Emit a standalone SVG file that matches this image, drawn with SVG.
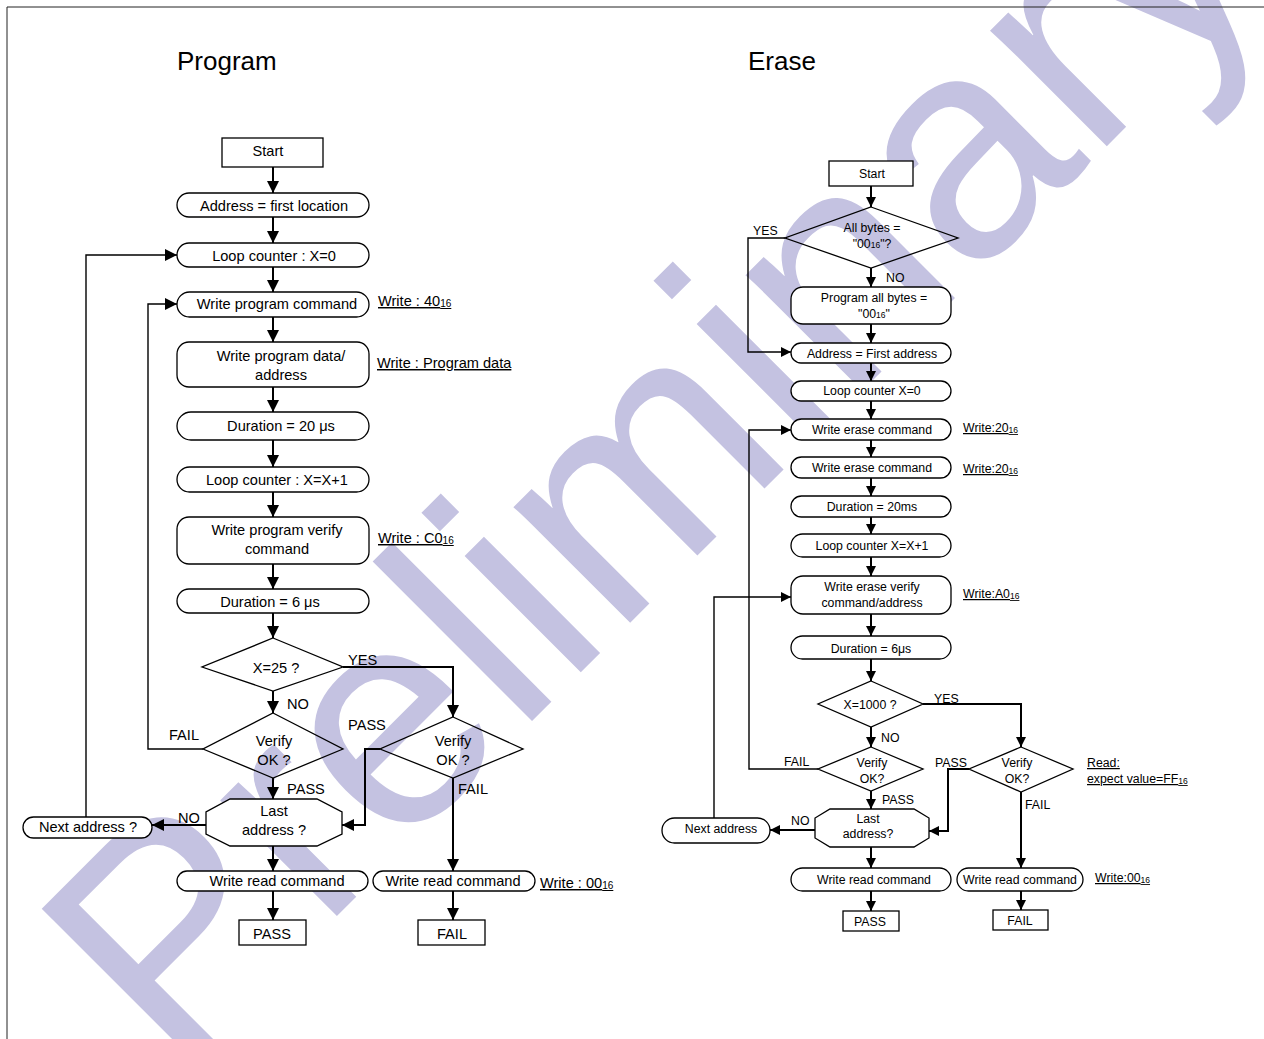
<svg xmlns="http://www.w3.org/2000/svg" width="1264" height="1039" viewBox="0 0 1264 1039">
<defs>
<style>
.t{font-family:"Liberation Sans",Arial,sans-serif;fill:#000}
.p{font-size:14.6px}
.e{font-size:12.3px}
.c{text-anchor:middle}
.s1{font-size:10px}
.s2{font-size:8.5px}
.n{fill:#fff;stroke:#000;stroke-width:1.3}
.d{fill:none;stroke:#000;stroke-width:1.3}
.ln{fill:none;stroke:#000;stroke-width:2}
.lt{fill:none;stroke:#000;stroke-width:1.4}
.u{text-decoration:underline}
.wm{font-family:"Liberation Sans",Arial,sans-serif;font-size:311px;fill:#c4c2e1}
</style>
<marker id="ap" markerUnits="userSpaceOnUse" markerWidth="12" markerHeight="12" refX="12" refY="6" orient="auto"><path d="M0,0 L12,6 L0,12 z" fill="#000"/></marker>
<marker id="ae" markerUnits="userSpaceOnUse" markerWidth="10" markerHeight="10" refX="10" refY="5" orient="auto"><path d="M0,0 L10,5 L0,10 z" fill="#000"/></marker>
</defs>
<rect x="0" y="0" width="1264" height="1039" fill="#fff"/>
<g id="watermark"><text class="wm" transform="translate(175,1078) rotate(-45)">Preliminary</text></g>
<path d="M7,1039 V7 H1264" fill="none" stroke="#222" stroke-width="1"/>
<text class="t" x="177" y="70" font-size="26">Program</text>
<text class="t" x="748" y="70" font-size="26">Erase</text>

<g id="connectors">
<g class="ln" marker-end="url(#ap)">
<path d="M273,167 V193"/>
<path d="M273,217 V243"/>
<path d="M273,267 V292"/>
<path d="M273,317 V342"/>
<path d="M273,387 V412"/>
<path d="M273,440 V467"/>
<path d="M273,492 V517"/>
<path d="M273,564 V589"/>
<path d="M273,613 V638"/>
<path d="M273,691 V713"/>
<path d="M273,778 V799"/>
<path d="M273,846 V871"/>
<path d="M273,891 V920"/>
<path d="M453,891 V920"/>
<path d="M453,778 V871"/>
<path d="M206,825 H152"/>
<path d="M343,667 H453 V717"/>
<path d="M380,749 H365 V825 H342"/>
</g>
<g class="lt" marker-end="url(#ap)">
<path d="M203,749 H148 V304 H177"/>
<path d="M86,817 V255 H177"/>
</g>
<g class="ln" marker-end="url(#ae)">
<path d="M871,186 V207"/>
<path d="M871,268 V287"/>
<path d="M871,324 V343"/>
<path d="M871,363 V381"/>
<path d="M871,401 V419"/>
<path d="M871,440 V457"/>
<path d="M871,478 V496"/>
<path d="M871,517 V534"/>
<path d="M871,557 V576"/>
<path d="M871,614 V636"/>
<path d="M871,659 V681"/>
<path d="M871,727 V747"/>
<path d="M871,791 V809"/>
<path d="M871,847 V868"/>
<path d="M871,891 V911"/>
<path d="M1021,891 V910"/>
<path d="M1021,792 V868"/>
<path d="M923,704 H1021 V747"/>
<path d="M815,830 H770"/>
<path d="M969,769 H948 V831 H929"/>
</g>
<g class="lt" marker-end="url(#ae)">
<path d="M785,238 H748 V352 H791"/>
<path d="M818,769 H749 V430 H791"/>
<path d="M714,818 V597 H791"/>
</g>
</g>

<g id="edge-labels" class="t">
<text class="p" x="348" y="665">YES</text>
<text class="p" x="287" y="709">NO</text>
<text class="p" x="169" y="740">FAIL</text>
<text class="p" x="348" y="730">PASS</text>
<text class="p" x="287" y="794">PASS</text>
<text class="p" x="458" y="794">FAIL</text>
<text class="p" x="178" y="823">NO</text>
<text class="e" x="753" y="235">YES</text>
<text class="e" x="886" y="282">NO</text>
<text class="e" x="934" y="703">YES</text>
<text class="e" x="881" y="742">NO</text>
<text class="e" x="784" y="766">FAIL</text>
<text class="e" x="882" y="804">PASS</text>
<text class="e" x="791" y="825">NO</text>
<text class="e" x="935" y="767">PASS</text>
<text class="e" x="1025" y="809">FAIL</text>
</g>

<g id="notes" class="t">
<text class="p u" x="378" y="306">Write : 40<tspan class="s1" dy="1">16</tspan></text>
<text class="p u" x="377" y="368">Write : Program data</text>
<text class="p u" x="378" y="543">Write : C0<tspan class="s1" dy="1">16</tspan></text>
<text class="p u" x="540" y="888">Write : 00<tspan class="s1" dy="1">16</tspan></text>
<text class="e u" x="963" y="432">Write:20<tspan class="s2" dy="1">16</tspan></text>
<text class="e u" x="963" y="473">Write:20<tspan class="s2" dy="1">16</tspan></text>
<text class="e u" x="963" y="598">Write:A0<tspan class="s2" dy="1">16</tspan></text>
<text class="e u" x="1087" y="767">Read:</text>
<text class="e u" x="1087" y="783">expect value=FF<tspan class="s2" dy="1">16</tspan></text>
<text class="e u" x="1095" y="882">Write:00<tspan class="s2" dy="1">16</tspan></text>
</g>

<g id="p-start"><rect class="n" x="222" y="138" width="101" height="29"/><text class="t p c" x="268" y="156">Start</text></g>
<g id="p-addr"><rect class="n" x="177" y="193" width="192" height="24" rx="12"/><text class="t p c" x="274" y="211">Address = first location</text></g>
<g id="p-loop0"><rect class="n" x="177" y="243" width="192" height="24" rx="12"/><text class="t p c" x="274" y="261">Loop counter : X=0</text></g>
<g id="p-wpc"><rect class="n" x="177" y="292" width="192" height="25" rx="12.5"/><text class="t p c" x="277" y="309">Write program command</text></g>
<g id="p-wpd"><rect class="n" x="177" y="342" width="192" height="45" rx="12"/><text class="t p c" x="281" y="361">Write program data/</text><text class="t p c" x="281" y="380">address</text></g>
<g id="p-dur20"><rect class="n" x="177" y="412" width="192" height="28" rx="14"/><text class="t p c" x="281" y="431">Duration = 20 μs</text></g>
<g id="p-loop1"><rect class="n" x="177" y="467" width="192" height="25" rx="12.5"/><text class="t p c" x="277" y="485">Loop counter : X=X+1</text></g>
<g id="p-wpv"><rect class="n" x="177" y="517" width="192" height="47" rx="12"/><text class="t p c" x="277" y="535">Write program verify</text><text class="t p c" x="277" y="554">command</text></g>
<g id="p-dur6"><rect class="n" x="177" y="589" width="192" height="24" rx="12"/><text class="t p c" x="270" y="607">Duration = 6 μs</text></g>
<g id="p-x25"><polygon class="d" points="273,638 343,667 273,691 202,667"/><text class="t p c" x="276" y="673">X=25 ?</text></g>
<g id="p-verify1"><polygon class="d" points="273,713 343,749 273,778 203,749"/><text class="t p c" x="274" y="746">Verify</text><text class="t p c" x="274" y="765">OK ?</text></g>
<g id="p-verify2"><polygon class="d" points="453,717 523,749 453,778 380,749"/><text class="t p c" x="453" y="746">Verify</text><text class="t p c" x="453" y="765">OK ?</text></g>
<g id="p-last"><polygon class="n" points="230,799 317,799 342,812 342,834 317,846 230,846 206,834 206,812"/><text class="t p c" x="274" y="816">Last</text><text class="t p c" x="274" y="835">address ?</text></g>
<g id="p-next"><rect class="n" x="23" y="817" width="129" height="21" rx="10.5"/><text class="t p c" x="88" y="832">Next address ?</text></g>
<g id="p-read1"><rect class="n" x="177" y="871" width="191" height="20" rx="10"/><text class="t p c" x="277" y="886">Write read command</text></g>
<g id="p-read2"><rect class="n" x="373" y="871" width="162" height="20" rx="10"/><text class="t p c" x="453" y="886">Write read command</text></g>
<g id="p-pass"><rect class="n" x="239" y="920" width="67" height="25"/><text class="t p c" x="272" y="939">PASS</text></g>
<g id="p-fail"><rect class="n" x="418" y="920" width="67" height="25"/><text class="t p c" x="452" y="939">FAIL</text></g>

<g id="e-start"><rect class="n" x="829" y="161" width="84" height="25"/><text class="t e c" x="872" y="178">Start</text></g>
<g id="e-allbytes"><polygon class="d" points="871,207 958,238 871,268 785,238"/><text class="t e c" x="872" y="232">All bytes =</text><text class="t e c" x="872" y="248">"00<tspan class="s2">16</tspan>"?</text></g>
<g id="e-progall"><rect class="n" x="791" y="287" width="160" height="37" rx="12"/><text class="t e c" x="874" y="302">Program all bytes =</text><text class="t e c" x="874" y="318">"00<tspan class="s2">16</tspan>"</text></g>
<g id="e-addr"><rect class="n" x="791" y="343" width="160" height="20" rx="10"/><text class="t e c" x="872" y="358">Address = First address</text></g>
<g id="e-loop0"><rect class="n" x="791" y="381" width="160" height="20" rx="10"/><text class="t e c" x="872" y="395">Loop counter X=0</text></g>
<g id="e-wec1"><rect class="n" x="791" y="419" width="160" height="21" rx="10.5"/><text class="t e c" x="872" y="434">Write erase command</text></g>
<g id="e-wec2"><rect class="n" x="791" y="457" width="160" height="21" rx="10.5"/><text class="t e c" x="872" y="472">Write erase command</text></g>
<g id="e-dur20"><rect class="n" x="791" y="496" width="160" height="21" rx="10.5"/><text class="t e c" x="872" y="511">Duration = 20ms</text></g>
<g id="e-loop1"><rect class="n" x="791" y="534" width="160" height="23" rx="11.5"/><text class="t e c" x="872" y="550">Loop counter X=X+1</text></g>
<g id="e-wev"><rect class="n" x="791" y="576" width="160" height="38" rx="12"/><text class="t e c" x="872" y="591">Write erase verify</text><text class="t e c" x="872" y="607">command/address</text></g>
<g id="e-dur6"><rect class="n" x="791" y="636" width="160" height="23" rx="11.5"/><text class="t e c" x="871" y="653">Duration = 6μs</text></g>
<g id="e-x1000"><polygon class="d" points="871,681 923,704 871,727 818,704"/><text class="t e c" x="870" y="709">X=1000 ?</text></g>
<g id="e-verify1"><polygon class="d" points="871,747 923,769 871,791 818,769"/><text class="t e c" x="872" y="767">Verify</text><text class="t e c" x="872" y="783">OK?</text></g>
<g id="e-verify2"><polygon class="d" points="1021,747 1073,769 1021,792 969,769"/><text class="t e c" x="1017" y="767">Verify</text><text class="t e c" x="1017" y="783">OK?</text></g>
<g id="e-last"><polygon class="n" points="830,809 914,809 929,818 929,838 914,847 830,847 815,838 815,818"/><text class="t e c" x="868" y="823">Last</text><text class="t e c" x="868" y="838">address?</text></g>
<g id="e-next"><rect class="n" x="662" y="818" width="108" height="25" rx="12.5"/><text class="t e c" x="721" y="833">Next address</text></g>
<g id="e-read1"><rect class="n" x="791" y="868" width="160" height="23" rx="11.5"/><text class="t e c" x="874" y="884">Write read command</text></g>
<g id="e-read2"><rect class="n" x="957" y="868" width="126" height="23" rx="11.5"/><text class="t e c" x="1020" y="884">Write read command</text></g>
<g id="e-pass"><rect class="n" x="843" y="911" width="56" height="20"/><text class="t e c" x="870" y="926">PASS</text></g>
<g id="e-fail"><rect class="n" x="993" y="910" width="55" height="20"/><text class="t e c" x="1020" y="925">FAIL</text></g>
</svg>
